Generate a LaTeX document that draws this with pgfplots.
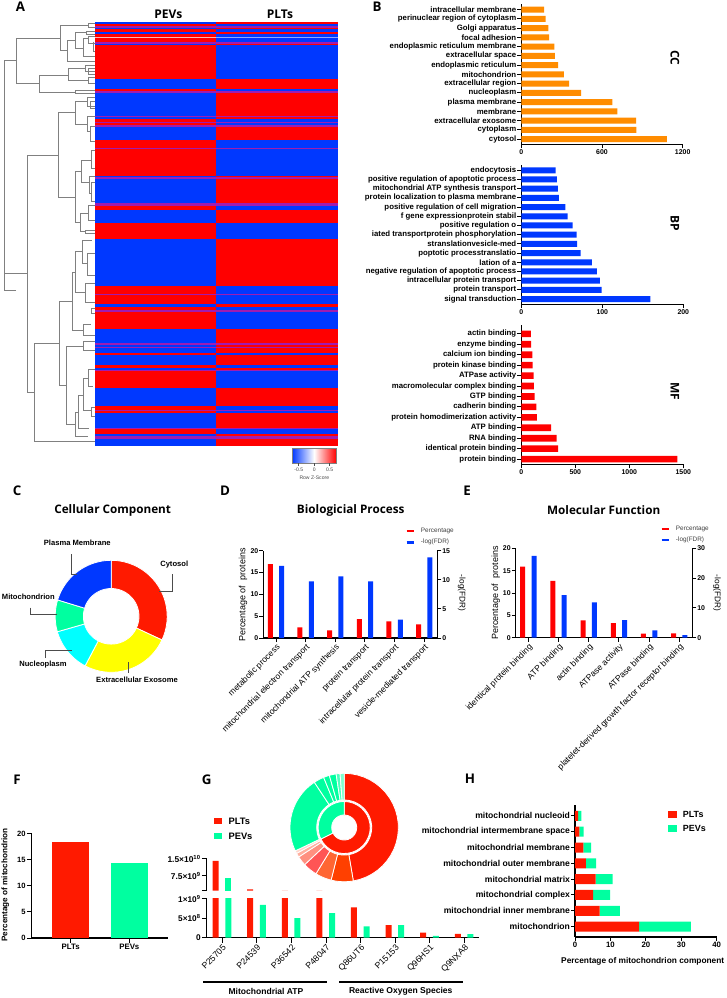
\documentclass[border=0pt]{standalone}
\usepackage{pgfplots}
\pgfplotsset{compat=1.18}
\usepackage{fontspec}
\setmainfont{Liberation Sans}
\newfontfamily\of{Open Sans}
\definecolor{hb}{HTML}{0038FF}
\definecolor{hr}{HTML}{FF0000}
\definecolor{hp}{HTML}{A01CB0}
\definecolor{rr}{HTML}{FF1A00}
\definecolor{gg}{HTML}{00FFA0}
\definecolor{oo}{HTML}{FF8C00}
\definecolor{cy}{HTML}{00FFFF}
\definecolor{yy}{HTML}{FFFF00}
\definecolor{gA}{HTML}{FF4000}
\definecolor{gB}{HTML}{FF6633}
\definecolor{gC}{HTML}{FF5555}
\definecolor{gD}{HTML}{FF9080}
\definecolor{gE}{HTML}{FFB0A0}
\definecolor{gF}{HTML}{FFD5CC}
\newcommand\fs[1]{\fontsize{#1}{#1}\selectfont}
\newcommand\T[6]{\node[anchor=#3,rotate=#4,inner sep=0pt,font=#5] at ({#1*0.75pt},{-#2*0.75pt}) {#6};}
% heat-map rows: y-from, y-to (1 unit = 1/3 pixel)
\newcommand\hrow[4]{\addplot[fill=#3,draw=#3,line width=0.1pt,forget plot] coordinates {(285,#1)(648,#1)(648,#2)(285,#2)} --cycle;
 \addplot[fill=#4,draw=#4,line width=0.1pt,forget plot] coordinates {(648,#1)(1012,#1)(1012,#2)(648,#2)} --cycle;}
\newcommand\R[2]{\hrow{#1}{#2}{hr}{hb}}
\newcommand\B[2]{\hrow{#1}{#2}{hb}{hr}}
\newcommand\Pp[2]{\hrow{#1}{#2}{hp}{hp}}
\newcommand\dn[1]{\addplot[black!50,line width=0.45pt,forget plot] coordinates {#1};}
% donut slice: cx cy r0 r1 a0 a1 colour (angles clockwise from the top)
\newcommand\ring[7]{\gdef\pts{}%
 \foreach \t in {0,...,24}{\pgfmathsetmacro\A{#5+(#6-#5)*\t/24}\pgfmathsetmacro\X{#1+#4*sin(\A)}\pgfmathsetmacro\Y{#2-#4*cos(\A)}\xdef\pts{\pts(\X,\Y)}}%
 \foreach \t in {24,23,...,0}{\pgfmathsetmacro\A{#5+(#6-#5)*\t/24}\pgfmathsetmacro\X{#1+#3*sin(\A)}\pgfmathsetmacro\Y{#2-#3*cos(\A)}\xdef\pts{\pts(\X,\Y)}}%
 \edef\cmd{\noexpand\addplot[fill=#7,draw=white,line width=0.6pt,forget plot] coordinates {\pts} --cycle;}\cmd}
\newcommand\lead[1]{\addplot[black!70,line width=0.6pt,forget plot] coordinates {#1};}
\pgfplotsset{
 pos/.style 2 args={at={(#1*0.75pt,-#2*0.75pt)},anchor=south west},
 base/.style={scale only axis,axis line style={black,line width=0.8pt},
  tick style={black,line width=0.7pt},tick align=outside,major tick length=3pt,
  /pgf/number format/assume math mode=true,/pgf/number format/1000 sep={},
  scaled ticks=false,
  every tick label/.append style={inner sep=0.6pt},
  axis x line*=bottom,axis y line*=left},
 hbx/.style={base,xbar,bar width=4.5pt,
  yticklabel style={font=\bfseries\fs{5.85}},xticklabel style={font=\bfseries\fs{5.2}},
  ytick distance=1,clip=false},
 vb/.style={base,clip=false,xmin=#1,
  xticklabel style={font=\fs{6.4},rotate=45,anchor=north east},
  yticklabel style={font=\bfseries\fs{5.2}}},
 rb/.style={base,axis x line=none,axis y line*=right,clip=false,xmin=#1,
  yticklabel style={font=\bfseries\fs{5.2}}}
}
\begin{document}
\begin{tikzpicture}
\path[use as bounding box,fill=white] (0,0) rectangle (545.25pt,-748.5pt);
% ---------- panel A
\begin{axis}[at={(0pt,-748.5pt)},anchor=south west,scale only axis,width=545.25pt,height=748.5pt,
 hide axis,xmin=0,xmax=2181,ymin=0,ymax=2994,y dir=reverse,clip=false]
\B{67}{72}\R{72}{78}\Pp{78}{83}\B{83}{88}\R{88}{95}\B{95}{102}\R{102}{110}
\hrow{110}{114}{red!30}{hb!45}
\R{114}{127}\Pp{127}{131}\B{131}{135}\R{135}{237}\B{237}{268}\R{268}{273}\Pp{273}{278}
\B{278}{348}\Pp{348}{352}\B{352}{358}\R{358}{366}\Pp{366}{370}\R{370}{376}\Pp{376}{380}
\B{380}{420}\R{420}{443}\Pp{443}{447}\R{447}{527}\B{527}{532}\Pp{532}{538}\B{538}{608}
\Pp{608}{617}\R{617}{631}\B{631}{670}\R{670}{718}\B{718}{857}\R{857}{881}\Pp{881}{885}
\R{885}{912}\B{912}{922}\R{922}{930}\Pp{930}{935}\R{935}{987}\B{987}{1030}\Pp{1030}{1035}
\B{1035}{1041}\Pp{1041}{1045}\B{1045}{1058}\R{1058}{1066}\B{1066}{1096}\R{1096}{1103}
\B{1103}{1110}\Pp{1110}{1113}\R{1113}{1163}\B{1163}{1217}\R{1217}{1230}\Pp{1230}{1234}
\R{1234}{1239}\B{1239}{1285}\Pp{1285}{1288}\R{1288}{1301}\B{1301}{1307}\Pp{1307}{1316}\B{1316}{1335}
% dendrogram
\dn{(48,872)(13,872)(13,182)(48,182)}
\dn{(13,820)(82,820)}
\dn{(182,115)(48,115)(48,250)(118,250)}
\dn{(204,225)(118,225)(118,277)(226,277)}
\dn{(265,75)(182,75)(182,152)(202,152)}
\dn{(227,120)(202,120)(202,183)(285,183)}
\dn{(258,98)(227,98)(227,145)(250,145)}
\dn{(265,115)(250,115)(250,170)(285,170)}
\dn{(285,70)(265,70)(265,82)(285,82)}
\dn{(285,94)(258,94)(258,102)(285,102)}
\dn{(285,108)(265,108)(265,130)(285,130)}
\dn{(280,125)(280,155)(285,155)}
\dn{(256,205)(204,205)(204,240)(265,240)}
\dn{(285,195)(256,195)(256,215)(285,215)}
\dn{(285,205)(265,205)(265,222)(285,222)}
\dn{(285,232)(265,232)(265,250)(285,250)}
\dn{(285,272)(226,272)(226,281)(285,281)}
\dn{(175,465)(82,465)(82,1177)(103,1177)}
\dn{(178,1030)(103,1030)(103,1324)(285,1324)}
\dn{(227,337)(175,337)(175,592)(225,592)}
\dn{(262,305)(227,305)(227,372)(262,372)}
\dn{(285,293)(262,293)(262,318)(285,318)}
\dn{(285,305)(272,305)(272,325)(285,325)}
\dn{(285,350)(262,350)(262,395)(272,395)}
\dn{(285,378)(272,378)(272,425)(285,425)}
\dn{(245,513)(225,513)(225,667)(240,667)}
\dn{(275,480)(245,480)(245,548)(267,548)}
\dn{(285,452)(275,452)(275,505)(285,505)}
\dn{(285,530)(267,530)(267,580)(275,580)}
\dn{(285,548)(275,548)(275,605)(285,605)}
\dn{(265,640)(240,640)(240,695)(255,695)}
\dn{(285,615)(265,615)(265,660)(285,660)}
\dn{(285,690)(255,690)(255,700)(285,700)}
\dn{(218,903)(178,903)(178,1156)(200,1156)}
\dn{(227,817)(218,817)(218,990)(250,990)}
\dn{(248,755)(227,755)(227,878)(256,878)}
\dn{(275,720)(248,720)(248,790)(262,790)}
\dn{(285,760)(262,760)(262,825)(285,825)}
\dn{(285,850)(256,850)(256,907)(285,907)}
\dn{(285,925)(275,925)(275,940)(285,940)}
\dn{(272,973)(250,973)(250,1005)(285,1005)}
\dn{(250,1040)(200,1040)(200,1272)(227,1272)}
\dn{(285,1025)(250,1025)(250,1052)(285,1052)}
\dn{(235,1238)(227,1238)(227,1310)(265,1310)}
\dn{(250,1185)(235,1185)(235,1285)(268,1285)}
\dn{(265,1135)(250,1135)(250,1230)(273,1230)}
\dn{(285,1108)(265,1108)(265,1160)(280,1160)}
\dn{(285,1222)(273,1222)(273,1250)(285,1250)}
\end{axis}
\T{20.5}{7}{center}{0}{\of\bfseries\fs{10}}{A}
\T{168.3}{14}{center}{0}{\of\bfseries\fs{9}}{PEVs}
\T{280}{14}{center}{0}{\of\bfseries\fs{9}}{PLTs}
\shade[left color=hb,right color=hr,middle color=white] (292*0.75pt,-448.7*0.75pt) rectangle (336.3*0.75pt,-463*0.75pt);
\draw[gray,line width=0.4pt] (292*0.75pt,-448.7*0.75pt) rectangle (336.3*0.75pt,-463*0.75pt);
\foreach \xx in {298.7,314.3,329.7}{\draw[black!70,line width=0.4pt] (\xx*0.75pt,-463*0.75pt)--(\xx*0.75pt,-465.5*0.75pt);}
\T{298.7}{470}{center}{0}{\fs{3.8}\color{black!70}}{-0.5}
\T{314.3}{470}{center}{0}{\fs{3.8}\color{black!70}}{0}
\T{329.7}{470}{center}{0}{\fs{3.8}\color{black!70}}{0.5}
\T{314.3}{478}{center}{0}{\fs{3.8}\color{black!70}}{Row Z-Score}
% ---------- panel B, CC
\begin{axis}[hbx,pos={521.3}{144.3},width=121.05pt,height=105.2pt,xmin=0,xmax=1200,ymin=-0.57,ymax=14.61,
 xtick={0,600,1200},ytick={0,...,14},
 yticklabels={cytosol,cytoplasm,extracellular exosome,membrane,plasma membrane,nucleoplasm,extracellular region,mitochondrion,endoplasmic reticulum,extracellular space,endoplasmic reticulum membrane,focal adhesion,Golgi apparatus,perinuclear region of cytoplasm,intracellular membrane}]
\addplot[xbar,fill=oo,draw=none] coordinates {(1083,0)(855,1)(853,2)(714,3)(677,4)(444,5)(355,6)(317,7)(273,8)(250,9)(245,10)(206,11)(201,12)(181,13)(169,14)};
\end{axis}
\T{675}{58}{center}{-90}{\of\bfseries\fs{9}}{CC}
\T{377}{7}{center}{0}{\of\bfseries\fs{10}}{B}
% ---------- BP
\begin{axis}[hbx,pos={521.3}{304.3},width=121.5pt,height=104.5pt,xmin=0,xmax=200,ymin=-0.57,ymax=14.58,
 xtick={0,100,200},ytick={0,...,14},
 yticklabels={signal transduction,protein transport,intracellular protein transport,negative regulation of apoptotic process,lation of a,poptotic processtranslatio,stranslationvesicle-med,iated transportprotein phosphorylation,positive regulation o,f gene expressionprotein stabil,positive regulation of cell migration,protein localization to plasma membrane,mitochondrial ATP synthesis transport,positive regulation of apoptotic process,endocytosis}]
\addplot[xbar,fill=hb,draw=none] coordinates {(159.2,0)(99.2,1)(97,2)(93.4,3)(87.2,4)(73.3,5)(69,6)(68.3,7)(63.4,8)(57.2,9)(54.3,10)(46.5,11)(45.3,12)(44,13)(42.4,14)};
\end{axis}
\T{675}{223}{center}{-90}{\of\bfseries\fs{9}}{BP}
% ---------- MF
\begin{axis}[hbx,pos={521.3}{464.3},width=121.5pt,height=104.5pt,xmin=0,xmax=1500,ymin=-0.5,ymax=12.85,bar width=5pt,
 xtick={0,500,1000,1500},ytick={0,...,12},
 yticklabels={protein binding,identical protein binding,RNA binding,ATP binding,protein homodimerization activity,cadherin binding,GTP binding,macromolecular complex binding,ATPase activity,protein kinase binding,calcium ion binding,enzyme binding,actin binding}]
\addplot[xbar,fill=hr,draw=none] coordinates {(1444,0)(342,1)(326,2)(277,3)(145,4)(139,5)(123,6)(117,7)(114,8)(105,9)(102,10)(92,11)(89,12)};
\end{axis}
\T{675}{391}{center}{-90}{\of\bfseries\fs{9}}{MF}
% ---------- donuts and small legends on a pixel canvas
\begin{axis}[at={(0pt,-748.5pt)},anchor=south west,scale only axis,width=545.25pt,height=748.5pt,
 hide axis,xmin=0,xmax=727,ymin=0,ymax=998,y dir=reverse,clip=false]
\ring{111.2}{616.3}{27.8}{56}{0}{115}{rr}
\ring{111.2}{616.3}{27.8}{56}{115}{207.8}{yy}
\ring{111.2}{616.3}{27.8}{56}{207.8}{254}{cy}
\ring{111.2}{616.3}{27.8}{56}{254}{287}{gg}
\ring{111.2}{616.3}{27.8}{56}{287}{360}{hb}
\lead{(71,554.3)(71,574.3)(77.3,574.3)}
\lead{(172.3,574.3)(172.3,591)(159.3,591)}
\lead{(30.7,607.7)(30.7,614.3)(56.7,614.3)}
\lead{(45.7,658)(45.7,650.7)(71.7,650.7)}
\lead{(128,662)(128,673)}
% G donut
\ring{344.2}{827.5}{27.5}{54.2}{0}{170.3}{rr}
\ring{344.2}{827.5}{27.5}{54.2}{170.3}{194}{gA}
\ring{344.2}{827.5}{27.5}{54.2}{194}{211.4}{gB}
\ring{344.2}{827.5}{27.5}{54.2}{211.4}{226.8}{gC}
\ring{344.2}{827.5}{27.5}{54.2}{226.8}{237.1}{gD}
\ring{344.2}{827.5}{27.5}{54.2}{237.1}{241.5}{gE}
\ring{344.2}{827.5}{27.5}{54.2}{241.5}{244.5}{gF}
\ring{344.2}{827.5}{27.5}{54.2}{244.5}{326.6}{gg}
\ring{344.2}{827.5}{27.5}{54.2}{326.6}{337.7}{gg}
\ring{344.2}{827.5}{27.5}{54.2}{337.7}{344.1}{gg}
\ring{344.2}{827.5}{27.5}{54.2}{344.1}{351.4}{gg}
\ring{344.2}{827.5}{27.5}{54.2}{351.4}{355.6}{gg!70!white}
\ring{344.2}{827.5}{27.5}{54.2}{355.6}{360}{gg!50!white}
\ring{344.2}{827.5}{12.5}{26}{0}{243.8}{rr}
\ring{344.2}{827.5}{12.5}{26}{243.8}{360}{gg}
% D and E legends
\addplot[hr,line width=2pt,forget plot] coordinates {(406.7,531)(414,531)};
\addplot[color=hb,line width=2pt,forget plot] coordinates {(406.7,542.3)(414,542.3)};
\addplot[hr,line width=2pt,forget plot] coordinates {(661.7,529)(669,529)};
\addplot[color=hb,line width=2pt,forget plot] coordinates {(661.7,540)(669,540)};
% G legend
\addplot[fill=rr,draw=none,forget plot] coordinates {(214,817.7)(222.3,817.7)(222.3,824.3)(214,824.3)} --cycle;
\addplot[fill=gg,draw=none,forget plot] coordinates {(214,832.7)(222.3,832.7)(222.3,839.3)(214,839.3)} --cycle;
\addplot[black,line width=0.8pt,forget plot] coordinates {(203.3,982)(326.7,982)};
\addplot[black,line width=0.8pt,forget plot] coordinates {(339.3,982)(462.7,982)};
% H legend
\addplot[fill=rr,draw=none,forget plot] coordinates {(668.3,810.7)(677.3,810.7)(677.3,818.3)(668.3,818.3)} --cycle;
\addplot[fill=gg,draw=none,forget plot] coordinates {(668.3,825)(677.3,825)(677.3,831.7)(668.3,831.7)} --cycle;
\end{axis}
% ---------- C labels
\T{17}{491}{center}{0}{\of\bfseries\fs{10}}{C}
\T{112.7}{510}{center}{0}{\of\bfseries\fs{8.8}}{Cellular Component}
\def\cf{\bfseries\fs{5.7}}
\T{77.3}{542.3}{center}{0}{\cf}{Plasma Membrane}
\T{160}{564.3}{west}{0}{\cf}{Cytosol}
\T{1.7}{597}{west}{0}{\cf}{Mitochondrion}
\T{43}{664.5}{center}{0}{\cf}{Nucleoplasm}
\T{137}{680}{center}{0}{\cf}{Extracellular Exosome}
% ---------- D
\T{225}{491}{center}{0}{\of\bfseries\fs{10}}{D}
\T{350.7}{510}{center}{0}{\of\bfseries\fs{8.8}}{Biologicial Process}
\begin{axis}[vb=-0.428,pos={263.3}{638},width=130.5pt,height=65.5pt,xmax=5.44,ymin=0,ymax=20,
 xtick={0,...,5},ytick={0,5,...,20},
 xticklabels={metabolic process,mitochondrial electron transport,mitochondrial ATP synthesis,protein transport,intracellular protein transport,vesicle-mediated transport}]
\addplot[ybar,bar width=3.75pt,bar shift=-4.25pt,fill=hr,draw=none] coordinates {(0,16.9)(1,2.44)(2,1.76)(3,4.35)(4,3.82)(5,3.13)};
\end{axis}
\begin{axis}[rb=-0.428,pos={263.3}{638},width=130.5pt,height=65.5pt,xmax=5.44,ymin=0,ymax=15,ytick={0,5,10,15}]
\addplot[ybar,bar width=3.75pt,bar shift=4.25pt,fill=hb,draw=none] coordinates {(0,12.37)(1,9.73)(2,10.6)(3,9.73)(4,3.15)(5,13.85)};
\end{axis}
\T{243}{595}{center}{90}{\fs{6.75}}{Percentage of\ \ proteins}
\T{461.7}{593}{center}{-90}{\fs{6.2}}{-log(FDR)}
\T{420.7}{531}{west}{0}{\fs{4.8}\color{black!75}}{Percentage}
\T{420.7}{542.3}{west}{0}{\fs{4.8}\color{black!75}}{-log(FDR)}
% ---------- E
\T{467}{491}{center}{0}{\of\bfseries\fs{10}}{E}
\T{603.7}{510}{center}{0}{\of\bfseries\fs{8.8}}{Molecular Function}
\begin{axis}[vb=-0.42,pos={515.7}{637.7},width=132.45pt,height=67.05pt,xmax=5.43,ymin=0,ymax=20,
 xtick={0,...,5},ytick={0,5,...,20},
 xticklabels={identical protein binding,ATP binding,actin binding,ATPase activity,ATPase binding,platelet-derived growth factor receptor binding}]
\addplot[ybar,bar width=3.75pt,bar shift=-4.25pt,fill=hr,draw=none] coordinates {(0,15.9)(1,12.7)(2,3.88)(3,3.28)(4,0.9)(5,0.97)};
\end{axis}
\begin{axis}[rb=-0.42,pos={515.7}{637.7},width=132.45pt,height=67.05pt,xmax=5.43,ymin=0,ymax=30,ytick={0,10,20,30}]
\addplot[ybar,bar width=3.75pt,bar shift=4.25pt,fill=hb,draw=none] coordinates {(0,27.5)(1,14.3)(2,11.87)(3,5.93)(4,2.46)(5,0.9)};
\end{axis}
\T{495.7}{593}{center}{90}{\fs{6.75}}{Percentage of\ \ proteins}
\T{717}{593}{center}{-90}{\fs{6.2}}{-log(FDR)}
\T{675.7}{529}{west}{0}{\fs{4.8}\color{black!75}}{Percentage}
\T{675.7}{540}{west}{0}{\fs{4.8}\color{black!75}}{-log(FDR)}
% ---------- F
\T{17}{780}{center}{0}{\of\bfseries\fs{10}}{F}
\begin{axis}[base,pos={31.7}{938},width=102.45pt,height=78.2pt,xmin=-0.665,xmax=1.665,ymin=0,ymax=20,clip=false,
 xtick={0,1},xticklabels={PLTs,PEVs},ytick={0,5,...,20},major tick length=3.7pt,
 xticklabel style={font=\bfseries\fs{5.9}},yticklabel style={font=\bfseries\fs{5.7}}]
\addplot[ybar,bar width=27.5pt,fill=rr,draw=none] coordinates {(0,18.4)};
\addplot[ybar,bar width=27.5pt,fill=gg,draw=none] coordinates {(1,14.4)};
\end{axis}
\T{5.3}{885}{center}{90}{\bfseries\fs{6.1}}{Percentage of mitochondrion}
% ---------- G
\T{206.7}{780}{center}{0}{\of\bfseries\fs{10}}{G}
\begin{axis}[base,pos={206.7}{890.7},width=204.45pt,height=24pt,xmin=-0.45,xmax=7.43,ymin=1e9,ymax=1.5e10,major tick length=3.7pt,
 axis x line=none,ytick={1e9,7.5e9,1.5e10},yticklabels={,7.5×10\textsuperscript{9},1.5×10\textsuperscript{10}},
 yticklabel style={font=\bfseries\fs{6.3}}]
\addplot[ybar,bar width=4.5pt,bar shift=-5pt,fill=rr,draw=none] coordinates {(0,1.41e10)(1,1.6e9)(2,1.05e9)(3,1.02e9)};
\addplot[ybar,bar width=4.5pt,bar shift=4.5pt,fill=gg,draw=none] coordinates {(0,6.5e9)};
\end{axis}
\begin{axis}[base,pos={206.7}{937.7},width=204.45pt,height=29.25pt,xmin=-0.45,xmax=7.43,ymin=0,ymax=1e9,major tick length=3.7pt,
 xtick={0,...,7},xticklabels={P25705,P24539,P36542,P48047,Q86UT6,P15153,Q96HS1,Q9NXA8},
 ytick={0,5e8,1e9},yticklabels={0,5×10\textsuperscript{8},1×10\textsuperscript{9}},
 xticklabel style={font=\fs{6.5},rotate=45,anchor=north east},yticklabel style={font=\bfseries\fs{6.2}}]
\addplot[ybar,bar width=4.5pt,bar shift=-5pt,fill=rr,draw=none] coordinates {(0,1.41e10)(1,1.6e9)(2,1.05e9)(3,1.02e9)(4,7.8e8)(5,3.25e8)(6,1.3e8)(7,1.0e8)};
\addplot[ybar,bar width=4.5pt,bar shift=4.5pt,fill=gg,draw=none] coordinates {(0,6.5e9)(1,8.4e8)(2,5e8)(3,6.3e8)(4,2.9e8)(5,3.2e8)(6,0.45e8)(7,0.95e8)};
\end{axis}
\T{228.3}{821}{west}{0}{\bfseries\fs{7}}{PLTs}
\T{228.3}{836}{west}{0}{\bfseries\fs{7}}{PEVs}
\T{266}{991.7}{center}{0}{\bfseries\fs{6.4}}{Mitochondrial ATP}
\T{400.7}{991.7}{center}{0}{\bfseries\fs{6.4}}{Reactive Oxygen Species}
% ---------- H
\T{470}{779}{center}{0}{\of\bfseries\fs{10}}{H}
\begin{axis}[base,xbar stacked,pos={575}{937},width=106.25pt,height=99pt,xmin=0,xmax=40,ymin=-0.66,ymax=7.69,bar width=7.5pt,clip=false,
 xtick={0,10,...,40},ytick={0,...,7},
 yticklabels={mitochondrion,mitochondrial inner membrane,mitochondrial complex,mitochondrial matrix,mitochondrial outer membrane,mitochondrial membrane,mitochondrial intermembrane space,mitochondrial nucleoid},
 yticklabel style={font=\bfseries\fs{6.45}},xticklabel style={font=\bfseries\fs{5.85}}]
\addplot[fill=rr,draw=none] coordinates {(18.07,0)(6.96,1)(5.08,2)(5.83,3)(3.1,4)(2.35,5)(1.22,6)(0.85,7)};
\addplot[fill=gg,draw=none] coordinates {(14.68,0)(5.74,1)(4.8,2)(4.8,3)(2.83,4)(2.17,5)(1.23,6)(0.94,7)};
\end{axis}
\T{642.7}{961.7}{center}{0}{\bfseries\fs{6.25}}{Percentage of mitochondrion component}
\T{682.7}{814}{west}{0}{\bfseries\fs{6.7}}{PLTs}
\T{682.7}{828.3}{west}{0}{\bfseries\fs{6.7}}{PEVs}
\end{tikzpicture}
\end{document}
